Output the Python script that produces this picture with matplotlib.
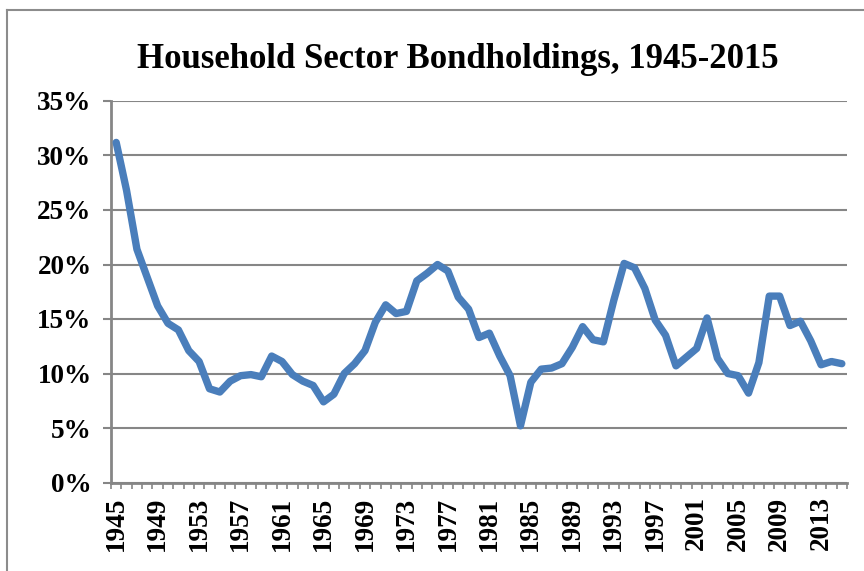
import matplotlib
matplotlib.use('Agg')
import matplotlib.pyplot as plt
from matplotlib.lines import Line2D
from matplotlib.ticker import FuncFormatter, MultipleLocator
import numpy as np

# household bondholdings share, 1945-2015
years = list(range(1945, 2016))
share = [31.2, 26.8, 21.4, 18.8, 16.2, 14.6, 14.0, 12.1, 11.1, 8.6,
         8.3, 9.3, 9.8, 9.9, 9.7, 11.6, 11.1, 9.9, 9.3, 8.9,
         7.4, 8.1, 10.0, 10.9, 12.1, 14.7, 16.3, 15.5, 15.7, 18.5,
         19.2, 20.0, 19.4, 17.0, 15.9, 13.3, 13.7, 11.6, 9.8, 5.2,
         9.2, 10.4, 10.5, 10.9, 12.4, 14.3, 13.1, 12.9, 16.7, 20.1,
         19.7, 17.8, 14.9, 13.5, 10.7, 11.5, 12.3, 15.1, 11.4, 10.0,
         9.8, 8.2, 11.0, 17.1, 17.1, 14.4, 14.8, 13.0, 10.8, 11.1, 10.9]
label_years = list(range(1945, 2015, 4))

title = 'Household Sector Bondholdings, 1945-2015'
grid_col = '#868686'
line_col = '#4A7EBB'
font = 'Liberation Serif'

fig = plt.figure(figsize=(8.64, 5.71), dpi=100)
ax = fig.add_axes([111/864, 1 - 482.5/571, (847 - 111)/864, (482.5 - 101)/571])

ax.plot(years, np.array(share) / 100, color=line_col, linewidth=5.3,
        solid_joinstyle='round', solid_capstyle='round', zorder=3)

ax.set_xlim(1944.5, 2015.5)
ax.set_ylim(0, 0.35)

# y axis
ax.yaxis.set_major_locator(MultipleLocator(0.05))
ax.yaxis.set_major_formatter(FuncFormatter(lambda v, p: '%d%%' % round(v * 100)))
ax.grid(axis='y', color=grid_col, linewidth=1.5)
ax.set_axisbelow(True)
ax.tick_params(axis='y', direction='out', length=6, width=1.5, color=grid_col, pad=8)

# x axis: labels every 4 years, small ticks between categories
ax.set_xticks(label_years)
ax.set_xticklabels([str(y) for y in label_years], rotation=90)
ax.set_xticks(np.arange(1944.5, 2016, 1), minor=True)
ax.tick_params(axis='x', which='major', length=0, pad=10)
ax.tick_params(axis='x', which='minor', direction='out', length=4, width=1.2, color=grid_col)

for lab in ax.get_xticklabels() + ax.get_yticklabels():
    lab.set_fontfamily(font)
    lab.set_fontweight('bold')
    lab.set_fontsize(19.5)

for s in ['top', 'right']:
    ax.spines[s].set_visible(False)
ax.spines['left'].set_color(grid_col)
ax.spines['left'].set_linewidth(2)
ax.spines['bottom'].set_color(grid_col)
ax.spines['bottom'].set_linewidth(2)

fig.text(458/864, 1 - 59/571, title, ha='center', va='center',
         fontfamily=font, fontweight='bold', fontsize=25)

# chart border
fig.add_artist(Line2D([7/864, 1], [1 - 10/571, 1 - 10/571], color='#8c8c8c', linewidth=1.5))
fig.add_artist(Line2D([7/864, 7/864], [0, 1 - 10/571], color='#8c8c8c', linewidth=1.5))

fig.savefig('out.png', dpi=100)
